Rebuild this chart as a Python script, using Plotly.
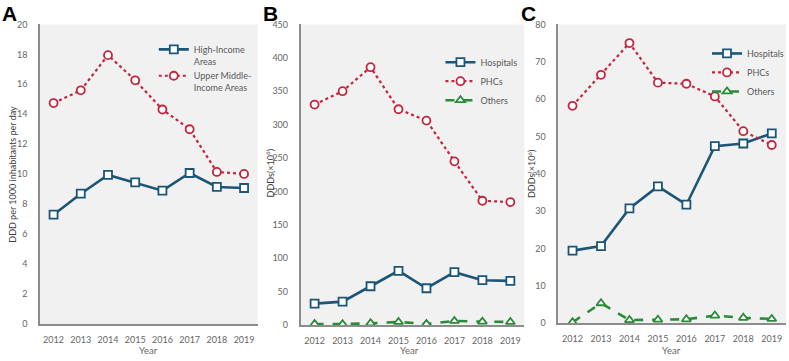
import plotly.graph_objects as go

years = ["2012", "2013", "2014", "2015", "2016", "2017", "2018", "2019"]

# Panel A: DDD per 1000 inhabitants per day
a_high_income = [7.3, 8.7, 9.95, 9.45, 8.9, 10.08, 9.15, 9.08]
a_upper_middle = [14.75, 15.6, 17.95, 16.27, 14.32, 13.0, 10.15, 10.02]

# Panel B: DDDs (x10^6)
b_hospitals = [32, 35, 58, 81, 55, 79, 67, 66]
b_phcs = [330, 350, 386, 323, 306, 245, 186, 184]
b_others = [1.5, 1.2, 2.5, 4.5, 1.5, 6, 5, 4.5]

# Panel C: DDDs (x10^6)
c_hospitals = [19.4, 20.6, 30.7, 36.6, 31.7, 47.4, 48.1, 50.8]
c_phcs = [58.2, 66.5, 75.0, 64.4, 64.1, 60.7, 51.4, 47.7]
c_others = [0.2, 5.3, 0.8, 0.9, 1.0, 2.0, 1.4, 1.1]

W, H = 789, 361
BLUE = "#1b5577"
RED = "#c4253c"
GREEN = "#2a8a37"
TXT = "#666666"
FONT = "Lato, Open Sans, sans-serif"

def px(x):
    return x / W

def py(y):
    return 1 - y / H

fig = go.Figure()

def hosp(x, y, name, xa, ya, leg):
    fig.add_trace(go.Scatter(
        x=x, y=y, name=name, xaxis=xa, yaxis=ya, legend=leg, mode="lines+markers",
        line=dict(color=BLUE, width=2.6),
        marker=dict(symbol="square", size=8, color="white", line=dict(color=BLUE, width=1.8)),
    ))

def phc(x, y, name, xa, ya, leg):
    fig.add_trace(go.Scatter(
        x=x, y=y, name=name, xaxis=xa, yaxis=ya, legend=leg, mode="lines+markers",
        line=dict(color=RED, width=2.2, dash="dot"),
        marker=dict(symbol="circle", size=8, color="white", line=dict(color=RED, width=1.8)),
    ))

def oth(x, y, name, xa, ya, leg):
    fig.add_trace(go.Scatter(
        x=x, y=y, name=name, xaxis=xa, yaxis=ya, legend=leg, mode="lines+markers",
        line=dict(color=GREEN, width=2.6, dash="dash"),
        marker=dict(symbol="triangle-up", size=8, color="white", line=dict(color=GREEN, width=1.8)),
    ))

hosp(years, a_high_income, "High-Income<br>Areas", "x", "y", "legend")
phc(years, a_upper_middle, "Upper Middle-<br>Income Areas", "x", "y", "legend")

hosp(years, b_hospitals, "Hospitals", "x2", "y2", "legend2")
phc(years, b_phcs, "PHCs", "x2", "y2", "legend2")
oth(years, b_others, "Others", "x2", "y2", "legend2")

hosp(years, c_hospitals, "Hospitals", "x3", "y3", "legend3")
phc(years, c_phcs, "PHCs", "x3", "y3", "legend3")
oth(years, c_others, "Others", "x3", "y3", "legend3")

xdom = [(40, 258), (301, 525), (559, 787)]
ydom = [(19, 328), (19, 329), (19, 327)]
yr = [(0, 20, 2), (0, 450, 50), (0, 80, 10)]

axis_common = dict(
    showgrid=False, zeroline=False, showline=True, linecolor="#8c8c8c", linewidth=1.5,
    tickfont=dict(family=FONT, size=9, color=TXT), ticks="",
)

layout = dict(
    width=W, height=H, margin=dict(l=0, r=0, t=0, b=0),
    paper_bgcolor="white", plot_bgcolor="#f1f1f1",
    font=dict(family=FONT, color=TXT),
    showlegend=True,
)

for i in range(3):
    s = "" if i == 0 else str(i + 1)
    layout["xaxis" + s] = dict(
        axis_common, domain=[px(xdom[i][0]), px(xdom[i][1])], anchor="y" + s,
        type="category", range=[-0.5, 7.5], ticklabelstandoff=6,
    )
    layout["yaxis" + s] = dict(
        axis_common, domain=[py(ydom[i][1]), py(ydom[i][0])], anchor="x" + s,
        range=[yr[i][0], yr[i][1]], dtick=yr[i][2], tick0=0, ticklabelstandoff=9,
    )

fig.update_layout(**layout)

leg_font = dict(family=FONT, size=9, color="#595959")
fig.update_layout(
    legend=dict(x=px(154), y=py(32), xanchor="left", yanchor="top", bgcolor="rgba(0,0,0,0)",
                font=leg_font, itemwidth=30, valign="top"),
    legend2=dict(x=px(441), y=py(43), xanchor="left", yanchor="top", bgcolor="rgba(0,0,0,0)",
                 font=leg_font, itemwidth=30),
    legend3=dict(x=px(708), y=py(34), xanchor="left", yanchor="top", bgcolor="rgba(0,0,0,0)",
                 font=leg_font, itemwidth=30),
)

ann = []
for lab, x in [("A", 0), ("B", 261), ("C", 520)]:
    ann.append(dict(text="<b>%s</b>" % lab, x=px(x), y=py(8), xref="paper", yref="paper",
                    xanchor="left", yanchor="middle", showarrow=False,
                    font=dict(family="Liberation Sans, Arial", size=21, color="black")))
for x in [149, 410, 672]:
    ann.append(dict(text="Year", x=px(x), y=py(355), xref="paper", yref="paper",
                    xanchor="center", yanchor="middle", showarrow=False,
                    font=dict(family=FONT, size=9.5, color=TXT)))
for txt, x in [("DDD per 1000 inhabitants per day", 13), ("DDDs(×10<sup>6</sup>)", 270), ("DDDs(×10<sup>6</sup>)", 532)]:
    ann.append(dict(text=txt, x=px(x), y=py(173), xref="paper", yref="paper",
                    xanchor="center", yanchor="middle", textangle=-90, showarrow=False,
                    font=dict(family=FONT, size=9, color="#404040")))
fig.update_layout(annotations=ann)

post = (
    "document.documentElement.style.margin='0';"
    "document.documentElement.style.overflow='hidden';"
    "document.body.style.margin='0';document.body.style.padding='0';"
    "document.body.style.overflow='hidden';"
)
fig.write_html("out.html", post_script=post, config={"displayModeBar": False})
